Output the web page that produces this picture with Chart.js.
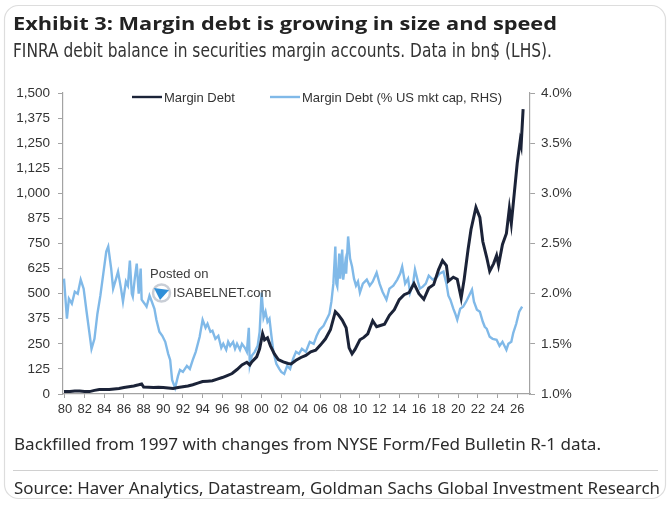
<!DOCTYPE html>
<html>
<head>
<meta charset="utf-8">
<script src="https://cdn.jsdelivr.net/npm/chart.js@4.4.1/dist/chart.umd.min.js"></script>
<style>
  html, body { margin: 0; padding: 0; background: #ffffff; }
  #wrap { position: relative; width: 670px; height: 505px; }
</style>
</head>
<body>
<div id="wrap"><canvas id="marginChart" width="670" height="505"></canvas></div>
<script>

// DATA

// Margin debt, bn$ (LHS)
const debtYears = [
  1979.9, 1980.5, 1981.0, 1981.5, 1982.0, 1982.5, 1983.0, 1983.5, 1984.0, 1984.5,
  1985.0, 1985.5, 1986.0, 1986.5, 1987.0, 1987.5, 1987.8, 1988.0, 1988.5, 1989.0,
  1989.5, 1990.0, 1990.5, 1991.0, 1991.5, 1992.0, 1992.5, 1993.0, 1993.5, 1994.0,
  1994.5, 1995.0, 1995.5, 1996.0, 1996.5, 1997.0, 1997.5, 1998.0, 1998.5, 1998.8,
  1999.0, 1999.5, 1999.8, 2000.1, 2000.3, 2000.6, 2000.9, 2001.3, 2001.7, 2002.2,
  2002.7, 2003.0, 2003.5, 2004.0, 2004.5, 2005.0, 2005.5, 2006.0, 2006.5, 2007.0,
  2007.5, 2007.8, 2008.2, 2008.6, 2008.9, 2009.2, 2009.5, 2010.0, 2010.4, 2010.8,
  2011.3, 2011.7, 2012.0, 2012.5, 2013.0, 2013.5, 2014.0, 2014.5, 2015.0, 2015.5,
  2016.0, 2016.5, 2017.0, 2017.5, 2018.0, 2018.4, 2018.8, 2019.0, 2019.5, 2019.9,
  2020.3, 2020.6, 2021.0, 2021.3, 2021.8, 2022.2, 2022.5, 2022.9, 2023.2, 2023.6,
  2023.9, 2024.1, 2024.5, 2024.9, 2025.2, 2025.4, 2025.7, 2026.0, 2026.3, 2026.4,
  2026.6
];
const debtValues = [
  12, 13, 15, 15, 13, 12, 18, 22, 23, 22,
  25, 27, 32, 36, 40, 46, 50, 35, 34, 33,
  34, 32, 30, 28, 32, 36, 40, 46, 54, 62,
  64, 66, 74, 82, 92, 102, 122, 145, 158, 145,
  160, 185, 225, 300, 270, 280, 240, 200, 172, 160,
  152, 150, 168, 182, 192, 210, 218, 245, 275, 320,
  410, 395, 368, 330, 230, 200, 222, 270, 282, 300,
  365, 335, 340, 348, 392, 420, 470, 495, 505, 550,
  500, 472, 528, 545, 620, 665, 640, 562, 582, 572,
  478, 570, 720, 820, 930, 880, 760, 680, 612, 650,
  690, 642, 745, 800, 925, 850, 1000, 1150, 1262, 1240,
  1420
];

// Margin debt, % of US market cap (RHS)
const pctYears = [
  1979.9, 1980.2, 1980.4, 1980.7, 1981.0, 1981.3, 1981.6, 1981.9, 1982.2, 1982.5,
  1982.7, 1983.0, 1983.3, 1983.6, 1983.9, 1984.2, 1984.4, 1984.7, 1984.9, 1985.2,
  1985.4, 1985.7, 1985.9, 1986.2, 1986.4, 1986.6, 1986.8, 1986.9, 1987.1, 1987.3,
  1987.5, 1987.7, 1987.8, 1988.1, 1988.3, 1988.6, 1988.8, 1989.1, 1989.3, 1989.6,
  1989.9, 1990.2, 1990.5, 1990.7, 1990.9, 1991.2, 1991.5, 1991.7, 1992.0, 1992.4,
  1992.7, 1993.0, 1993.3, 1993.7, 1994.0, 1994.3, 1994.5, 1994.8, 1995.0, 1995.3,
  1995.6, 1995.9, 1996.1, 1996.4, 1996.6, 1996.8, 1997.1, 1997.3, 1997.5, 1997.8,
  1998.0, 1998.3, 1998.5, 1998.7, 1998.8, 1999.0, 1999.3, 1999.6, 1999.8, 2000.0,
  2000.2, 2000.4, 2000.6, 2000.8, 2001.0, 2001.2, 2001.5, 2001.8, 2002.0, 2002.3,
  2002.6, 2002.9, 2003.2, 2003.5, 2003.8, 2004.1, 2004.5, 2004.9, 2005.3, 2005.6,
  2005.9, 2006.3, 2006.6, 2006.9, 2007.1, 2007.3, 2007.5, 2007.6, 2007.7, 2007.9,
  2008.0, 2008.2, 2008.3, 2008.5, 2008.6, 2008.8, 2009.0, 2009.2, 2009.4, 2009.6,
  2009.8, 2010.0, 2010.3, 2010.7, 2011.0, 2011.3, 2011.7, 2012.0, 2012.3, 2012.7,
  2013.0, 2013.4, 2013.8, 2014.1, 2014.3, 2014.6, 2014.9, 2015.1, 2015.4, 2015.6,
  2015.9, 2016.1, 2016.4, 2016.7, 2017.0, 2017.4, 2017.8, 2018.1, 2018.5, 2018.8,
  2019.0, 2019.2, 2019.5, 2019.7, 2019.9, 2020.2, 2020.5, 2020.8, 2021.1, 2021.4,
  2021.6, 2021.9, 2022.2, 2022.5, 2022.7, 2022.9, 2023.2, 2023.5, 2023.9, 2024.2,
  2024.5, 2024.9, 2025.1, 2025.4, 2025.6, 2025.9, 2026.2, 2026.5
];
const pctValues = [
  2.15, 1.75, 1.95, 1.90, 2.02, 2.00, 2.14, 2.05, 1.82, 1.60,
  1.45, 1.55, 1.80, 1.98, 2.20, 2.42, 2.47, 2.25, 2.05, 2.15,
  2.22, 2.05, 1.92, 2.12, 2.08, 2.33, 2.00, 1.97, 2.15, 2.30,
  2.00, 2.25, 1.94, 1.90, 1.87, 1.98, 1.93, 1.85, 1.74, 1.62,
  1.58, 1.52, 1.40, 1.34, 1.14, 1.06, 1.18, 1.24, 1.22, 1.28,
  1.25, 1.34, 1.42, 1.57, 1.74, 1.66, 1.70, 1.62, 1.63, 1.55,
  1.58, 1.46, 1.50, 1.44, 1.52, 1.48, 1.52, 1.45, 1.50, 1.44,
  1.50, 1.46, 1.42, 1.66, 1.29, 1.38, 1.42, 1.48, 1.62, 2.01,
  1.76, 1.82, 1.72, 1.75, 1.58, 1.42, 1.30, 1.25, 1.22, 1.20,
  1.28, 1.25, 1.35, 1.42, 1.40, 1.45, 1.42, 1.52, 1.50, 1.58,
  1.64, 1.68, 1.74, 1.80, 1.92, 2.10, 2.47, 2.10, 2.07, 2.40,
  2.15, 2.44, 2.14, 2.30, 2.20, 2.57, 2.35, 2.27, 2.15, 2.08,
  2.12, 2.01, 2.10, 2.14, 2.08, 2.12, 2.21, 2.10, 2.02, 1.94,
  2.05, 2.08, 2.14, 2.20, 2.27, 2.10, 2.15, 2.01, 2.10, 2.24,
  2.12, 2.05, 2.07, 2.10, 2.18, 2.14, 2.16, 2.20, 2.22, 2.10,
  1.98, 1.94, 1.85, 1.80, 1.74, 1.85, 1.87, 1.92, 1.98, 2.04,
  1.92, 1.84, 1.82, 1.72, 1.67, 1.65, 1.57, 1.55, 1.54, 1.48,
  1.52, 1.44, 1.50, 1.52, 1.61, 1.70, 1.82, 1.87
];

// tick values
const yearTicks = [1980, 1982, 1984, 1986, 1988, 1990, 1992, 1994, 1996, 1998, 2000, 2002,
                   2004, 2006, 2008, 2010, 2012, 2014, 2016, 2018, 2020, 2022, 2024, 2026];
const debtTicks = [0, 125, 250, 375, 500, 625, 750, 875, 1000, 1125, 1250, 1375, 1500];
const pctTicks = [1.0, 1.5, 2.0, 2.5, 3.0, 3.5, 4.0];

const seriesNames = ["Margin Debt", "Margin Debt (% US mkt cap, RHS)"];

const titleText = "Exhibit 3: Margin debt is growing in size and speed";
const subtitleText = "FINRA debit balance in securities margin accounts. Data in bn$ (LHS).";
const noteText = "Backfilled from 1997 with changes from NYSE Form/Fed Bulletin R-1 data.";
const sourceText = "Source: Haver Analytics, Datastream, Goldman Sachs Global Investment Research";


function toPoints(xs, ys) {
    return xs.map(function (x, i) { return { x: x, y: ys[i] }; });
}

// draw text squeezed/stretched to a given width
function fitText(ctx, text, x, y, width) {
    const w = ctx.measureText(text).width;
    ctx.save();
    ctx.translate(x, y);
    ctx.scale(width / w, 1);
    ctx.fillText(text, 0, 0);
    ctx.restore();
}

const AXIS_COLOR = "#a3a3a3";
const TEXT_COLOR = "#333333";

Chart.defaults.font.family = "'Liberation Sans', Arial, sans-serif";
Chart.defaults.color = TEXT_COLOR;


// page decorations: card, titles, legend, watermark, footnotes
const pagePlugin = {
    id: "page",

    beforeDraw: function (chart) {
        const ctx = chart.ctx;
        ctx.save();
        ctx.fillStyle = "#ffffff";
        ctx.fillRect(0, 0, chart.width, chart.height);
        ctx.strokeStyle = "#dddddd";
        ctx.lineWidth = 1.2;
        ctx.beginPath();
        ctx.roundRect(4.5, 5.5, 661, 493, 14);
        ctx.stroke();
        ctx.restore();
    },

    afterDraw: function (chart) {
        const ctx = chart.ctx;
        ctx.save();
        ctx.textBaseline = "alphabetic";
        ctx.textAlign = "left";

        // title + subtitle
        ctx.fillStyle = "#222222";
        ctx.font = "700 18.5px 'Open Sans', sans-serif";
        fitText(ctx, titleText, 13, 29.5, 544);
        ctx.fillStyle = "#333333";
        ctx.font = "400 19.5px 'Liberation Sans Narrow', 'DejaVu Sans Condensed', sans-serif";
        fitText(ctx, subtitleText, 13, 56.5, 539);

        // legend
        const legendPos = [[132, 162], [270, 300]];
        ctx.font = "13px 'Liberation Sans', Arial, sans-serif";
        chart.data.datasets.forEach(function (ds, i) {
            const p = legendPos[i];
            ctx.strokeStyle = ds.borderColor;
            ctx.lineWidth = 2.4;
            ctx.beginPath();
            ctx.moveTo(p[0], 97);
            ctx.lineTo(p[1], 97);
            ctx.stroke();
            ctx.fillStyle = TEXT_COLOR;
            ctx.fillText(ds.label, p[1] + 2, 101.5);
        });

        // watermark
        ctx.fillStyle = "#3c3c3c";
        ctx.font = "13px 'Liberation Sans', Arial, sans-serif";
        ctx.fillText("Posted on", 150, 277.5);
        ctx.fillText("ISABELNET.com", 173, 296.5);
        ctx.strokeStyle = "#c9ced6";
        ctx.lineWidth = 2.5;
        ctx.beginPath();
        ctx.arc(161.5, 293, 8.5, 0, Math.PI * 2);
        ctx.stroke();
        ctx.fillStyle = "#2f8fd8";
        ctx.beginPath();
        ctx.moveTo(154, 288);
        ctx.lineTo(169, 290);
        ctx.lineTo(160, 300);
        ctx.closePath();
        ctx.fill();

        // footnote, separator, source
        ctx.fillStyle = "#2b2b2b";
        ctx.font = "400 16.5px 'Noto Sans', 'Open Sans', sans-serif";
        fitText(ctx, noteText, 14, 450, 587);
        ctx.strokeStyle = "#d0d0d0";
        ctx.lineWidth = 1;
        ctx.beginPath();
        ctx.moveTo(13, 470.5);
        ctx.lineTo(658, 470.5);
        ctx.stroke();
        fitText(ctx, sourceText, 14, 494, 646);

        ctx.restore();
    }
};


new Chart(
    document.getElementById("marginChart"),
    {
        type: "line",

        data: {
            datasets: [
                {
                    label: seriesNames[0],
                    data: toPoints(debtYears, debtValues),
                    yAxisID: "y",
                    borderColor: "#1b2338",
                    borderWidth: 3,
                    pointRadius: 0,
                    tension: 0
                },
                {
                    label: seriesNames[1],
                    data: toPoints(pctYears, pctValues),
                    yAxisID: "y1",
                    borderColor: "#80b9e8",
                    borderWidth: 2.4,
                    pointRadius: 0,
                    tension: 0
                }
            ]
        },

        options: {
            responsive: false,
            animation: false,
            layout: {
                padding: { top: 93, bottom: 80, left: 0, right: 0 }
            },
            plugins: {
                legend: { display: false },
                title: { display: false },
                tooltip: { enabled: false }
            },
            scales: {
                x: {
                    type: "linear",
                    min: 1979.8,
                    max: 2027.3,
                    afterBuildTicks: function (scale) {
                        scale.ticks = yearTicks.map(function (v) { return { value: v }; });
                    },
                    afterFit: function (scale) { scale.height = 31; },
                    ticks: {
                        autoSkip: false,
                        maxRotation: 0,
                        padding: 4,
                        font: { size: 13 },
                        color: TEXT_COLOR,
                        callback: function (v) { return String(v % 100).padStart(2, "0"); }
                    },
                    grid: {
                        drawOnChartArea: false,
                        drawTicks: true,
                        tickLength: 4,
                        color: AXIS_COLOR
                    },
                    border: { display: true, color: AXIS_COLOR, width: 1.2 }
                },
                y: {
                    position: "left",
                    min: 0,
                    max: 1500,
                    afterBuildTicks: function (scale) {
                        scale.ticks = debtTicks.map(function (v) { return { value: v }; });
                    },
                    afterFit: function (scale) { scale.width = 63; },
                    ticks: {
                        padding: 8,
                        font: { size: 13.5 },
                        color: TEXT_COLOR,
                        callback: function (v) { return v.toLocaleString("en-US"); }
                    },
                    grid: {
                        drawOnChartArea: false,
                        drawTicks: true,
                        tickLength: 5,
                        color: AXIS_COLOR
                    },
                    border: { display: true, color: AXIS_COLOR, width: 1.2 }
                },
                y1: {
                    position: "right",
                    min: 1.0,
                    max: 4.0,
                    afterBuildTicks: function (scale) {
                        scale.ticks = pctTicks.map(function (v) { return { value: v }; });
                    },
                    afterFit: function (scale) { scale.width = 140; },
                    ticks: {
                        padding: 6,
                        font: { size: 13.5 },
                        color: TEXT_COLOR,
                        callback: function (v) { return v.toFixed(1) + "%"; }
                    },
                    grid: {
                        drawOnChartArea: false,
                        drawTicks: true,
                        tickLength: 5,
                        color: AXIS_COLOR
                    },
                    border: { display: true, color: AXIS_COLOR, width: 1.2 }
                }
            }
        },

        plugins: [pagePlugin]
    }
);

</script>
</body>
</html>
